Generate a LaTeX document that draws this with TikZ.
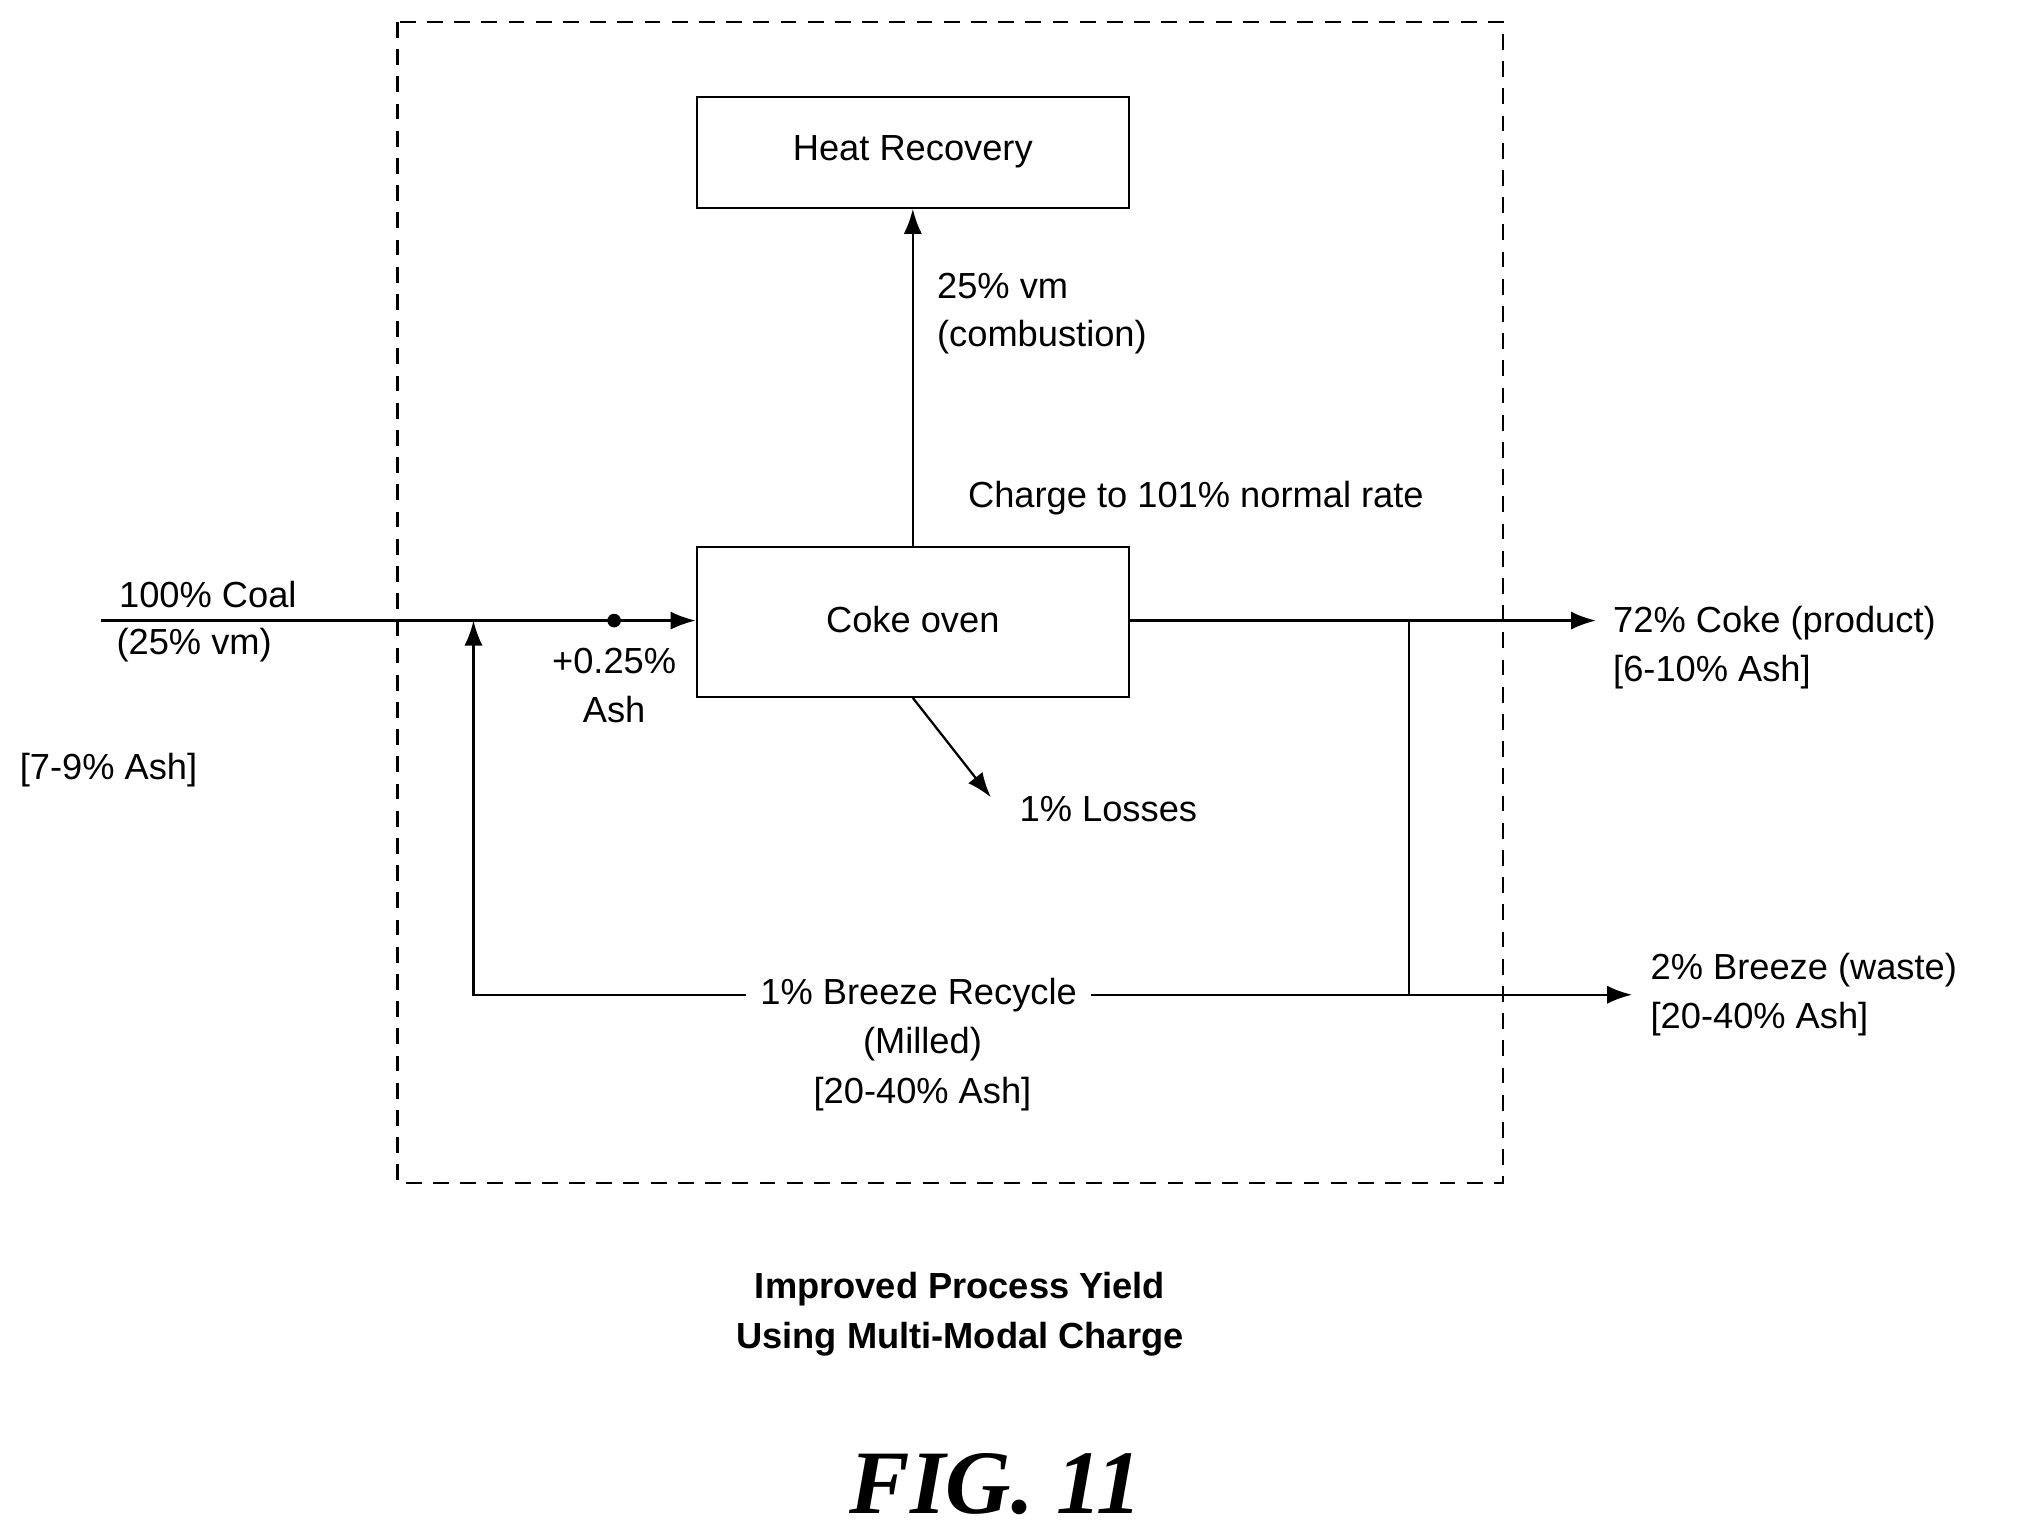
\documentclass[tikz,border=0pt]{standalone}
\usepackage{fontspec}
\setmainfont{Liberation Sans}
\newfontfamily\figfont{Liberation Serif}
\usetikzlibrary{arrows.meta}
\begin{document}
\begin{tikzpicture}[x=0.02cm,y=-0.02cm,
  every node/.style={font=\fontsize{16}{19}\selectfont,inner sep=0pt},
  box/.style={draw,line width=1pt},
  flow/.style={line width=1pt,-{Latex[length=11pt,width=8pt]}},
  ln/.style={line width=1pt}]
\useasboundingbox (0,0) rectangle (1568,1187);
\draw[ln,dashed,dash pattern=on 7pt off 5pt] (308,17) rectangle (1165,917);
\node[box,minimum width=335*0.02cm,minimum height=86*0.02cm] (hr) at (707.5,118) {Heat Recovery};
\node[box,minimum width=335*0.02cm,minimum height=116*0.02cm] (co) at (707.5,482) {};
\node (cot) at (707.5,480) {Coke oven};
\draw[flow] (co.north) -- (hr.south);
\node[anchor=west] (vm) at (726,222) {25\% vm};
\node[anchor=west] (comb) at (726,261) {(combustion)};
\node[anchor=west] (chg) at (750,386) {Charge to 101\% normal rate};
\coordinate (cin) at (78,481);
\coordinate (dot) at (476,481);
\coordinate (merge) at (367,481);
\draw[flow] (cin) -- (co.west |- cin);
\fill (dot) circle (3pt);
\node[anchor=west] (coal) at (92,461) {100\% Coal};
\node[anchor=west] (coalvm) at (90,500) {(25\% vm)};
\node[anchor=west] (cash) at (15,597) {[7-9\% Ash]};
\node (pash) at (476,512) {+0.25\%};
\node (pash2) at (476,550) {Ash};
\coordinate (j1) at (1092,481);
\coordinate (j2) at (1092,771);
\coordinate (rc) at (367,771);
\coordinate (cout) at (1237,481);
\coordinate (bout) at (1265,771);
\draw[flow] (co.east |- cin) -- (cout);
\draw[ln] (j1) -- (j2);
\draw[flow] (j2) -- (bout);
\node[fill=white,inner xsep=6pt] (rec) at (712,771) {1\% Breeze Recycle};
\draw[ln] (j2) -- (rec.east);
\draw[flow] (rec.west) -- (rc) -- (merge);
\node (mil) at (715,809) {(Milled)};
\node (mash) at (715,848) {[20-40\% Ash]};
\node[anchor=west] (coke) at (1250,483) {72\% Coke (product)};
\node[anchor=west] (coke2) at (1250,521) {[6-10\% Ash]};
\node[anchor=west] (brz) at (1279,752) {2\% Breeze (waste)};
\node[anchor=west] (brz2) at (1279,790) {[20-40\% Ash]};
\coordinate (lossend) at (768,618);
\draw[flow] (co.south) -- (lossend);
\node[anchor=west] (loss) at (790,627) {1\% Losses};
\node[font=\fontsize{16}{19}\bfseries\selectfont] (t1) at (744,999) {Improved Process Yield};
\node[font=\fontsize{16}{19}\bfseries\selectfont] (t2) at (744,1038) {Using Multi-Modal Charge};
\node[font=\figfont\fontsize{40}{44}\bfseries\itshape\selectfont] (fig) at (772,1150) {FIG. 11};
\end{tikzpicture}
\end{document}
